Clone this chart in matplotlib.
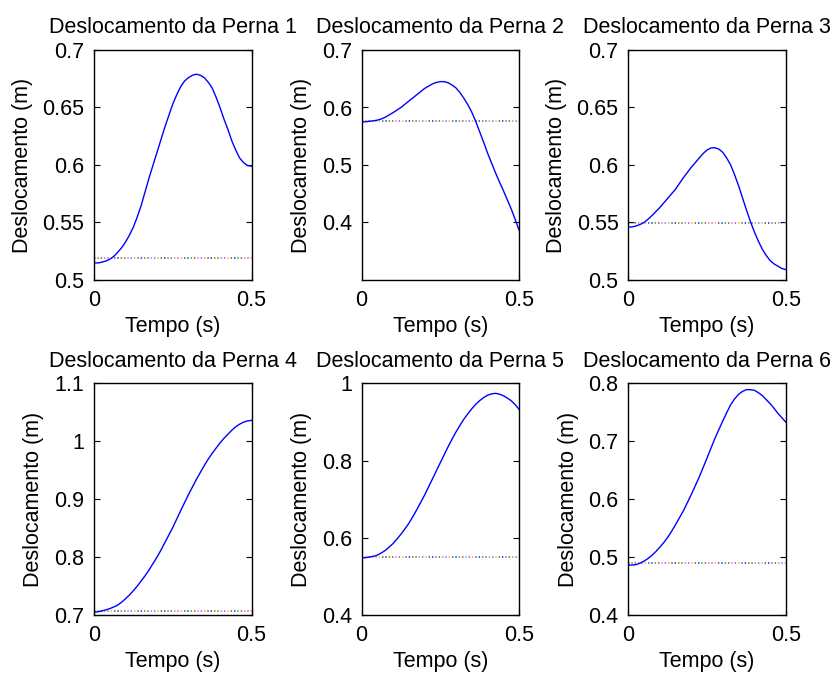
import matplotlib
matplotlib.use("Agg")
import matplotlib.pyplot as plt
from matplotlib.ticker import FuncFormatter

plt.rcParams['font.family'] = ['Liberation Sans', 'DejaVu Sans']
plt.rcParams['lines.scale_dashes'] = False

t = [0, 0.0125, 0.025, 0.0375, 0.05, 0.0625, 0.075, 0.0875, 0.1, 0.1125, 0.125,
     0.1375, 0.15, 0.1625, 0.175, 0.1875, 0.2, 0.2125, 0.225, 0.2375, 0.25,
     0.2625, 0.275, 0.2875, 0.3, 0.3125, 0.325, 0.3375, 0.35, 0.3625, 0.375,
     0.3875, 0.4, 0.4125, 0.425, 0.4375, 0.45, 0.4625, 0.475, 0.4875, 0.5]

leg1 = [0.515, 0.5148, 0.5155, 0.5165, 0.518, 0.5205, 0.524, 0.528, 0.533, 0.539, 0.546,
        0.555, 0.565, 0.577, 0.589, 0.600, 0.611, 0.622, 0.633, 0.643, 0.653,
        0.661, 0.668, 0.673, 0.676, 0.678, 0.679, 0.678, 0.676, 0.672, 0.667,
        0.659, 0.650, 0.640, 0.631, 0.621, 0.613, 0.606, 0.602, 0.5995, 0.599]
leg2 = [0.575, 0.5752, 0.576, 0.5768, 0.578, 0.580, 0.583, 0.587, 0.591, 0.5955, 0.600,
        0.6055, 0.611, 0.6165, 0.622, 0.6275, 0.633, 0.637, 0.641, 0.6435, 0.645,
        0.645, 0.643, 0.639, 0.634, 0.626, 0.616, 0.605, 0.592, 0.576, 0.558,
        0.540, 0.521, 0.504, 0.487, 0.471, 0.456, 0.440, 0.424, 0.406, 0.387]
leg3 = [0.546, 0.5462, 0.547, 0.5483, 0.550, 0.5528, 0.556, 0.5595, 0.563, 0.567, 0.571,
        0.575, 0.579, 0.584, 0.589, 0.5935, 0.598, 0.602, 0.606, 0.610, 0.613,
        0.6148, 0.615, 0.6138, 0.611, 0.606, 0.600, 0.5915, 0.582, 0.5715, 0.561,
        0.551, 0.542, 0.534, 0.527, 0.5215, 0.517, 0.514, 0.512, 0.510, 0.509]
leg4 = [0.705, 0.7055, 0.707, 0.7088, 0.711, 0.7138, 0.717, 0.722, 0.728, 0.7345, 0.742,
        0.750, 0.759, 0.768, 0.778, 0.789, 0.800, 0.812, 0.825, 0.838, 0.851,
        0.8655, 0.880, 0.894, 0.908, 0.921, 0.934, 0.946, 0.958, 0.969, 0.979,
        0.988, 0.997, 1.005, 1.012, 1.019, 1.025, 1.0295, 1.033, 1.035, 1.036]
leg5 = [0.548, 0.5485, 0.550, 0.552, 0.555, 0.5605, 0.567, 0.5755, 0.585, 0.5965, 0.609,
        0.6225, 0.637, 0.654, 0.672, 0.691, 0.710, 0.731, 0.752, 0.773, 0.794,
        0.815, 0.836, 0.8555, 0.874, 0.891, 0.907, 0.921, 0.934, 0.9455, 0.955,
        0.963, 0.969, 0.9725, 0.974, 0.972, 0.968, 0.962, 0.955, 0.945, 0.933]
leg6 = [0.486, 0.4862, 0.487, 0.4895, 0.493, 0.4975, 0.503, 0.5095, 0.517, 0.525, 0.534,
        0.5445, 0.556, 0.568, 0.580, 0.594, 0.608, 0.623, 0.638, 0.6545, 0.671,
        0.688, 0.705, 0.720, 0.735, 0.7495, 0.763, 0.773, 0.781, 0.786, 0.789,
        0.789, 0.788, 0.784, 0.779, 0.772, 0.765, 0.757, 0.748, 0.7405, 0.733]

legs = [leg1, leg2, leg3, leg4, leg5, leg6]
ref_levels = [0.519, 0.577, 0.5497, 0.7075, 0.551, 0.4897]
titles = ["Deslocamento da Perna %d" % i for i in range(1, 7)]
ylims = [(0.5, 0.7), (0.3, 0.7), (0.5, 0.7), (0.7, 1.1), (0.4, 1.0), (0.4, 0.8)]
yticks = [[0.5, 0.55, 0.6, 0.65, 0.7], [0.4, 0.5, 0.6, 0.7], [0.5, 0.55, 0.6, 0.65, 0.7],
          [0.7, 0.8, 0.9, 1.0, 1.1], [0.4, 0.6, 0.8, 1.0], [0.4, 0.5, 0.6, 0.7, 0.8]]
xticks = [0, 0.5]
dot_colors = ['#0000ff', '#00a000', '#ff0000', '#00c8c8', '#ff00ff', '#c0c000', '#404040']

W, H = 840, 675
fig = plt.figure(figsize=(8.4, 6.75), dpi=100)
lefts = [94, 361.5, 628.3]
rows = [(50, 280), (383.3, 615)]
width = 157.5

fs = 15.5
fmt = FuncFormatter(lambda v, p: "%g" % round(v, 4))
for i in range(6):
    r, c = divmod(i, 3)
    top, bot = rows[r]
    ax = fig.add_axes([lefts[c] / W, 1 - bot / H, width / W, (bot - top) / H])
    step = 2.4
    period = step * len(dot_colors)
    for k, col in enumerate(dot_colors):
        ax.plot([t[0], t[-1]], [ref_levels[i]] * 2, color=col, lw=1.1,
                linestyle=(-k * step, (1.0, period - 1.0)),
                dash_capstyle='butt', alpha=0.9)
    ax.plot(t, legs[i], color='#0000ff', lw=1.0)
    ax.set_xlim(0, 0.5)
    ax.set_ylim(*ylims[i])
    ax.set_xticks(xticks)
    ax.set_yticks(yticks[i])
    ax.xaxis.set_major_formatter(fmt)
    ax.yaxis.set_major_formatter(fmt)
    ax.tick_params(direction='in', length=4, width=0.8, top=True, right=True,
                   labelsize=fs, colors='black')
    ax.tick_params(axis='y', pad=7)
    ax.tick_params(axis='x', pad=7)
    for s in ax.spines.values():
        s.set_linewidth(1.0)
    ax.set_title(titles[i], fontsize=fs, pad=12)
    ax.set_xlabel("Tempo (s)", fontsize=fs, labelpad=4)
    ax.set_ylabel("Deslocamento (m)", fontsize=fs, labelpad=7)

fig.savefig("out.png", dpi=100)
